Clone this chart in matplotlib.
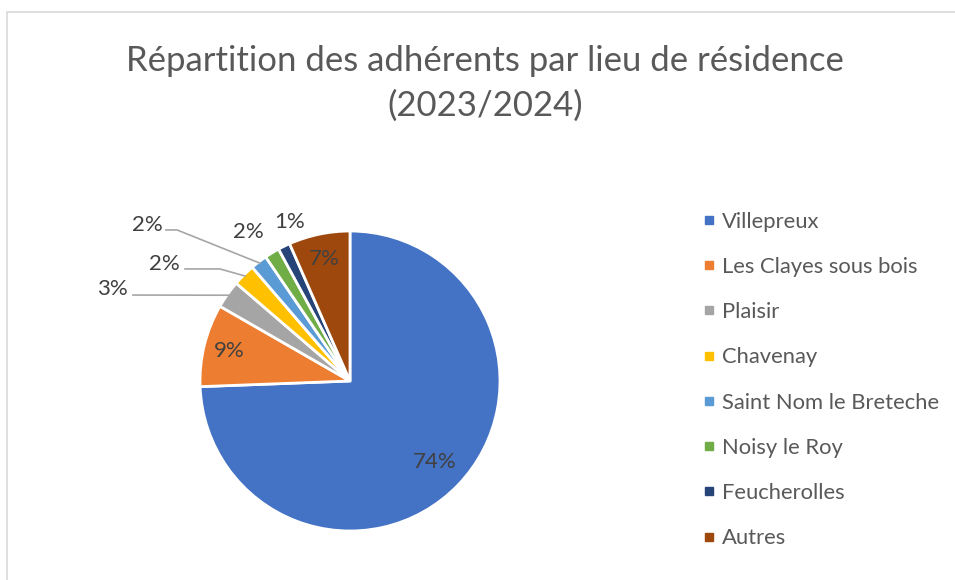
import numpy as np
import matplotlib
matplotlib.use("Agg")
import matplotlib.pyplot as plt
from matplotlib.lines import Line2D
from matplotlib.patches import Rectangle

# ---- data ----
categories = ["Villepreux", "Les Clayes sous bois", "Plaisir", "Chavenay",
              "Saint Nom le Breteche", "Noisy le Roy", "Feucherolles", "Autres"]
values = [74.4, 8.9, 3.0, 2.4, 1.8, 1.6, 1.3, 6.6]
colors = ["#4472C4", "#ED7D31", "#A5A5A5", "#FFC000",
          "#5B9BD5", "#70AD47", "#264478", "#9E480E"]
title = "Répartition des adhérents par lieu de résidence\n(2023/2024)"

plt.rcParams['font.family'] = ['Lato', 'DejaVu Sans']

W, H = 955, 580
fig = plt.figure(figsize=(W / 100, H / 100), dpi=100)
fig.patch.set_facecolor("white")

# chart border (cropped at right/bottom)
fig.patches.append(Rectangle((7 / W, -0.1), 1.2, 1 - 12 / H + 0.1,
                             transform=fig.transFigure, fill=False,
                             edgecolor="#D9D9D9", lw=1.2))

# pie axes: centre (350,381) px, radius 150 px
cx, cy, R = 350, 381, 150
ax = fig.add_axes([(cx - R) / W, (H - cy - R) / H, 2 * R / W, 2 * R / H])
wedges, _ = ax.pie(values, colors=colors, startangle=90, counterclock=False,
                   wedgeprops=dict(edgecolor="white", linewidth=2.0))
ax.set_xlim(-1, 1)
ax.set_ylim(-1, 1)
ax.set_aspect("equal")
ax.axis("off")

total = sum(values)
pct = [f"{v / total * 100:.0f}%" for v in values]
lab_color = "#404040"
fs_lab = 16

def mid_dir(w):
    a = np.deg2rad((w.theta1 + w.theta2) / 2)
    return np.cos(a), np.sin(a)

# inside labels
inside = {0: 0.78, 1: 0.83, 7: 0.83}
for i, r in inside.items():
    dx, dy = mid_dir(wedges[i])
    ax.text(r * dx, r * dy, pct[i], ha="center", va="center",
            fontsize=fs_lab, color=lab_color)

# outside labels: text position, leader path (data coords, radius units)
outside = {
    2: dict(pos=(-1.587, 0.613), path=[(-1.447, 0.573)]),
    3: dict(pos=(-1.24, 0.78), path=[(-1.10, 0.747), (-0.867, 0.747)]),
    4: dict(pos=(-1.353, 1.04), path=[(-1.227, 1.007), (-1.153, 1.007)]),
    5: dict(pos=(-0.68, 0.993), path=None),
    6: dict(pos=(-0.40, 1.06), path=None),
}
for i, d in outside.items():
    ax.text(d["pos"][0], d["pos"][1], pct[i], ha="center", va="center",
            fontsize=fs_lab, color=lab_color)
    if d["path"]:
        dx, dy = mid_dir(wedges[i])
        pts = d["path"] + [(0.99 * dx, 0.99 * dy)]
        xs, ys = zip(*pts)
        ax.add_line(Line2D(xs, ys, color="#A6A6A6", lw=1.2, clip_on=False))

# legend
handles = [Line2D([0], [0], marker="s", linestyle="none", markersize=5.5,
                  markerfacecolor=c, markeredgecolor=c) for c in colors]
fig.legend(handles, categories, loc="center left",
           bbox_to_anchor=(701 / W, 1 - 380 / H), frameon=False,
           fontsize=15.8, labelcolor="#595959", handlelength=0.7,
           handletextpad=0.25, labelspacing=1.15, borderpad=0,
           borderaxespad=0)

fig.text(485 / W, 1 - 83 / H, title, ha="center", va="center",
         fontsize=25, color="#595959", linespacing=1.48)

fig.savefig("out.png", dpi=100)
